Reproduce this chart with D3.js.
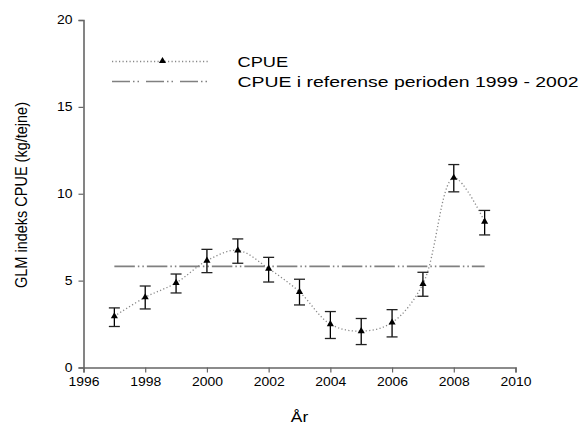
<!DOCTYPE html>
<html><head><meta charset="utf-8">
<script src="https://cdn.jsdelivr.net/npm/d3@7"></script>
<style>body{margin:0;background:#fff}svg{display:block;font-family:"Liberation Sans",Arial,sans-serif}</style>
</head><body><svg id="c" width="585" height="424"></svg>
<script>
const years = [1997,1998,1999,2000,2001,2002,2003,2004,2005,2006,2007,2008,2009];
const cpue  = [2.95,4.04,4.87,6.15,6.74,5.69,4.35,2.49,2.09,2.59,4.81,10.92,8.39];
const upper = [3.43,4.69,5.38,6.80,7.40,6.34,5.08,3.22,2.82,3.33,5.48,11.68,9.04];
const lower = [2.36,3.37,4.29,5.46,6.00,4.92,3.60,1.67,1.32,1.76,4.10,10.11,7.63];
const refValue = 5.82;
const refYears = [1997,2009];
const xTicks = [1996,1998,2000,2002,2004,2006,2008,2010];
const yTicks = [0,5,10,15,20];
const seriesNames = ["CPUE","CPUE i referense perioden 1999 - 2002"];

const svg = d3.select("#c");
const x = d3.scaleLinear().domain([1996,2010]).range([83.5,515.5]);
const y = d3.scaleLinear().domain([0,20]).range([367.5,20]);
const axisCol = "#666";

function stretch(sel, f){
  sel.each(function(){
    const L = this.getComputedTextLength();
    d3.select(this).attr("textLength", L*f).attr("lengthAdjust","spacingAndGlyphs");
  });
}

const gx = svg.append("g").attr("transform",`translate(0,${y(0)})`)
  .call(d3.axisBottom(x).tickValues(xTicks).tickFormat(d3.format("d")).tickSize(5).tickPadding(5));
const gy = svg.append("g").attr("transform",`translate(${x(1996)},0)`)
  .call(d3.axisLeft(y).tickValues(yTicks).tickSize(5).tickPadding(6));
[gx,gy].forEach(g=>{
  g.select(".domain").attr("stroke",axisCol).attr("stroke-width",1.6);
  g.selectAll(".tick line").attr("stroke",axisCol).attr("stroke-width",1.2);
  g.selectAll(".tick text").attr("font-size",12).attr("fill","#000").attr("font-family","Liberation Sans, Arial, sans-serif");
  stretch(g.selectAll(".tick text"),1.16);
});

// reference line
const refDash = "20.5,3,1.5,3,1.5,3";
svg.append("line")
  .attr("x1",x(refYears[0])).attr("x2",x(refYears[1]))
  .attr("y1",y(refValue)).attr("y2",y(refValue))
  .attr("stroke","#808080").attr("stroke-width",1.6)
  .attr("stroke-dasharray",refDash);

const pts = years.map((yr,i)=>({yr,v:cpue[i],hi:upper[i],lo:lower[i]}));

// dotted curve
const dotDash = "1.2,2.3";
svg.append("path")
  .attr("d", d3.line().x(d=>x(d.yr)).y(d=>y(d.v)).curve(d3.curveCatmullRom.alpha(0.5))(pts))
  .attr("fill","none").attr("stroke","#888").attr("stroke-width",1.3)
  .attr("stroke-dasharray",dotDash);

// error bars
const eb = svg.append("g");
pts.forEach(d=>{
  const cx = x(d.yr);
  eb.append("line").attr("x1",cx).attr("x2",cx).attr("y1",y(d.hi)).attr("y2",y(d.lo)).attr("stroke","#000").attr("stroke-width",1.3);
  [d.hi,d.lo].forEach(v=>eb.append("line").attr("x1",cx-5.5).attr("x2",cx+5.5).attr("y1",y(v)).attr("y2",y(v)).attr("stroke","#222").attr("stroke-width",1.3));
});

const tri = d3.symbol().type(d3.symbolTriangle).size(22);
svg.append("g").selectAll("path").data(pts).join("path")
  .attr("d",tri).attr("transform",d=>`translate(${x(d.yr)},${y(d.v)})`).attr("fill","#000");

// legend
const lg = svg.append("g");
lg.append("line").attr("x1",112).attr("x2",210).attr("y1",61.5).attr("y2",61.5)
  .attr("stroke","#888").attr("stroke-width",1.3).attr("stroke-dasharray",dotDash);
lg.append("path").attr("d",tri).attr("transform","translate(162.5,61)").attr("fill","#000");
lg.append("line").attr("x1",112).attr("x2",208).attr("y1",81.5).attr("y2",81.5)
  .attr("stroke","#808080").attr("stroke-width",1.6).attr("stroke-dasharray","18,3,1.5,3,1.5,7");
const t1 = lg.append("text").attr("x",237.5).attr("y",67.3).attr("font-size",14.5).text(seriesNames[0]);
const t2 = lg.append("text").attr("x",237.5).attr("y",87.3).attr("font-size",14.5).text(seriesNames[1]);
t1.attr("textLength",50.6).attr("lengthAdjust","spacingAndGlyphs");
t2.attr("textLength",341).attr("lengthAdjust","spacingAndGlyphs");

// axis titles
const xt = svg.append("text").attr("x",x(2003)).attr("y",421.5).attr("text-anchor","middle").attr("font-size",14.5).text("År");
stretch(xt,1.2);
svg.append("text").attr("transform","translate(27,195) scale(1.2,1) rotate(-90)").attr("text-anchor","middle").attr("font-size",14.5).text("GLM indeks CPUE (kg/tejne)");
</script></body></html>
